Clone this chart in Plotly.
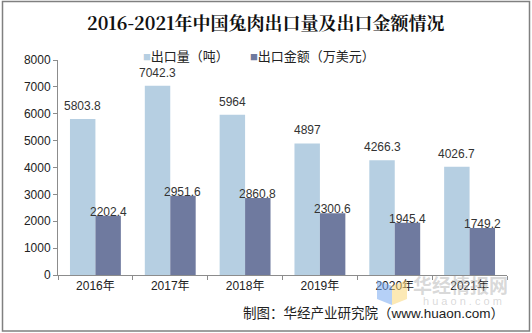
import plotly.graph_objects as go

years = ["2016年", "2017年", "2018年", "2019年", "2020年", "2021年"]
export_volume = [5803.8, 7042.3, 5964, 4897, 4266.3, 4026.7]       # 出口量（吨）
export_value = [2202.4, 2951.6, 2860.8, 2300.6, 1945.4, 1749.2]    # 出口金额（万美元）
y_ticks = [0, 1000, 2000, 3000, 4000, 5000, 6000, 7000, 8000]
series_names = ["出口量（吨）", "出口金额（万美元）"]

LIGHT = "#b6cfe2"
DARK = "#6f7a9f"
AXIS = "#8c8c8c"
FONT = "Liberation Sans, Arial, Noto Sans CJK SC"

W, H = 532, 333
ML, MR, MT, MB = 58, 25, 60, 58
PW, PH = W - ML - MR, H - MT - MB


def px_x(p):
    return (p - ML) / PW


def px_y(p):
    return (H - MB - p) / PH


fig = go.Figure()
fig.add_trace(go.Bar(x=years, y=export_volume, name=series_names[0],
                     marker=dict(color=LIGHT, line=dict(width=0))))
fig.add_trace(go.Bar(x=years, y=export_value, name=series_names[1],
                     marker=dict(color=DARK, line=dict(width=0))))

annotations = []
bar_px = PW / len(years) * (1 - 0.32) / 2
for yr, v in zip(years, export_volume):
    annotations.append(dict(x=yr, y=v, xref="x", yref="y", text=f"{v:g}",
                            showarrow=False, yanchor="bottom", yshift=4,
                            xshift=-bar_px / 2,
                            font=dict(family=FONT, size=12, color="#333333")))
for yr, v in zip(years, export_value):
    annotations.append(dict(x=yr, y=v, xref="x", yref="y", text=f"{v:g}",
                            showarrow=False, yanchor="bottom", yshift=-5,
                            xshift=bar_px / 2,
                            font=dict(family=FONT, size=12, color="#333333")))

# title
annotations.append(dict(x=px_x(266), y=px_y(22), xref="paper", yref="paper",
                        xanchor="center", yanchor="middle", showarrow=False,
                        text="<b>2016-2021年中国兔肉出口量及出口金额情况</b>",
                        font=dict(family="Noto Serif CJK SC, Noto Sans CJK SC", size=18,
                                  color="#111111")))

# legend drawn as text with coloured squares
for name, color, left in zip(series_names, [LIGHT, DARK], [141, 248]):
    annotations.append(dict(x=px_x(left), y=px_y(57), xref="paper", yref="paper",
                            xanchor="left", yanchor="middle", showarrow=False,
                            text=f"<span style='color:{color}'>■</span>{name}",
                            font=dict(family=FONT, size=13, color="#222222")))

# source note
annotations.append(dict(x=px_x(506), y=px_y(313), xref="paper", yref="paper",
                        xanchor="right", yanchor="middle", showarrow=False,
                        text="制图：华经产业研究院（www.huaon.com）",
                        font=dict(family=FONT, size=13.5, color="#222222")))

# watermark
annotations.append(dict(x=px_x(460), y=px_y(284), xref="paper", yref="paper",
                        xanchor="center", yanchor="middle", showarrow=False,
                        text="<b>华经情报网</b>",
                        font=dict(family="Noto Sans CJK SC", size=19, color="rgba(170,170,170,0.45)")))
annotations.append(dict(x=px_x(462), y=px_y(301), xref="paper", yref="paper",
                        xanchor="center", yanchor="middle", showarrow=False,
                        text="h u a o n . c o m",
                        font=dict(family=FONT, size=11, color="rgba(170,170,170,0.45)")))

shapes = [
    # outer frame
    dict(type="rect", xref="paper", yref="paper",
         x0=px_x(2.5), x1=px_x(529.5), y0=px_y(331), y1=px_y(1.5),
         line=dict(color="#808080", width=1.5), fillcolor="rgba(0,0,0,0)", layer="below"),
    # watermark logo
    dict(type="path", xref="paper", yref="paper",
         path=f"M {px_x(377)} {px_y(280)} L {px_x(392)} {px_y(286)} L {px_x(392)} {px_y(305)} L {px_x(377)} {px_y(299)} Z",
         fillcolor="rgba(120,170,240,0.55)", line=dict(width=0)),
    dict(type="path", xref="paper", yref="paper",
         path=f"M {px_x(392)} {px_y(286)} L {px_x(407)} {px_y(280)} L {px_x(407)} {px_y(299)} L {px_x(392)} {px_y(305)} Z",
         fillcolor="rgba(250,215,120,0.55)", line=dict(width=0)),
]

fig.update_layout(
    width=W, height=H,
    margin=dict(l=ML, r=MR, t=MT, b=MB, autoexpand=False),
    paper_bgcolor="white", plot_bgcolor="white",
    barmode="group", bargap=0.32, bargroupgap=0,
    showlegend=False,
    annotations=annotations,
    shapes=shapes,
    font=dict(family=FONT, size=12, color="#222222"),
)
fig.update_xaxes(type="category", showline=True, linecolor=AXIS, linewidth=1,
                 ticks="outside", tickson="boundaries", ticklen=4, tickcolor=AXIS,
                 showgrid=False, tickfont=dict(family=FONT, size=12, color="#222222"))
fig.update_yaxes(range=[0, 8000], tickvals=y_ticks, showline=True, linecolor=AXIS,
                 linewidth=1, ticks="outside", ticklen=4, tickcolor=AXIS, showgrid=False,
                 zeroline=False, tickfont=dict(family=FONT, size=12, color="#222222"))

fig.write_html("out.html")
